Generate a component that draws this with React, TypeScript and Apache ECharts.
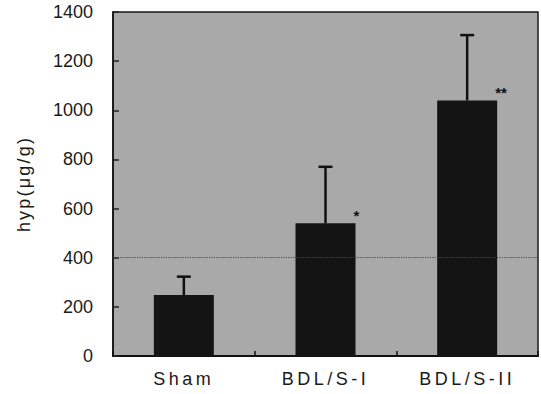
import React, { useEffect, useRef } from "react";
import * as echarts from "echarts";

const categories = ["Sham", "BDL/S-I", "BDL/S-II"];
const means = [248, 540, 1040];
const errorTops = [323, 770, 1306];
const marks = ["", "*", "**"];
const yMin = 0;
const yMax = 1400;
const yInterval = 200;
const refLine = 400;
const yName = "hyp(μg/g)";

export default function App() {
  const ref = useRef<HTMLDivElement>(null);
  useEffect(() => {
    document.body.style.margin = "0";
    const chart = echarts.init(ref.current!, undefined, { renderer: "svg" });
    const textColor = "#1a1a1a";
    chart.setOption({
      animation: false,
      grid: {
        left: 113,
        right: 3,
        top: 12,
        bottom: 38,
        show: true,
        backgroundColor: "#a9a9a9",
        borderColor: "#1a1a1a",
        borderWidth: 1.5,
      },
      xAxis: {
        type: "category",
        data: categories,
        axisLine: { show: true, lineStyle: { color: "#111", width: 2 } },
        axisTick: { show: true, inside: true, length: 5, lineStyle: { color: "#111", width: 1.5 } },
        axisLabel: {
          margin: 14,
          fontSize: 18,
          fontFamily: "Liberation Sans",
          color: textColor,
        },
      },
      yAxis: {
        type: "value",
        min: yMin,
        max: yMax,
        interval: yInterval,
        name: yName,
        nameLocation: "middle",
        nameGap: 80,
        nameTextStyle: { fontSize: 18, fontFamily: "Liberation Sans", color: textColor },
        axisLine: { show: true, lineStyle: { color: "#111", width: 1.5 } },
        axisTick: { show: true, inside: true, length: 6, lineStyle: { color: "#222", width: 1.5 } },
        splitLine: { show: false },
        axisLabel: {
          margin: 20,
          fontSize: 18,
          fontFamily: "Liberation Sans",
          color: textColor,
          formatter: (v: number) => String(v),
        },
      },
      series: [
        {
          type: "bar",
          data: means,
          barWidth: 60,
          itemStyle: { color: "#141414" },
          label: {
            show: true,
            position: ["100%", 0],
            align: "left",
            verticalAlign: "bottom",
            offset: [-2, 0],
            fontSize: 15,
            fontWeight: "bold",
            color: "#111",
            formatter: (p: any) => marks[p.dataIndex],
          },
          markLine: {
            silent: true,
            symbol: "none",
            label: { show: false },
            lineStyle: { type: "dotted", color: "#4a4a4a", width: 1.2 },
            data: [{ yAxis: refLine }],
          },
        },
        {
          type: "custom",
          data: means.map((m, i) => [i, m, errorTops[i]]),
          z: 5,
          renderItem: (params: any, api: any) => {
            const base = api.coord([api.value(0), api.value(1)]);
            const top = api.coord([api.value(0), api.value(2)]);
            const style = { stroke: "#111", lineWidth: 2.5 };
            return {
              type: "group",
              children: [
                { type: "line", shape: { x1: base[0], y1: base[1], x2: top[0], y2: top[1] }, style },
                { type: "line", shape: { x1: top[0] - 7, y1: top[1], x2: top[0] + 7, y2: top[1] }, style },
              ],
            };
          },
        },
      ],
    });
    const svg = ref.current!.querySelector("svg");
    if (svg) {
      svg.querySelectorAll("text").forEach((t) => {
        const s = t.textContent || "";
        if (categories.includes(s)) (t as any).style.letterSpacing = "3.5px";
        if (s === yName) (t as any).style.letterSpacing = "2.2px";
      });
    }
    return () => chart.dispose();
  }, []);
  return <div ref={ref} style={{ width: 541, height: 394 }} />;
}
